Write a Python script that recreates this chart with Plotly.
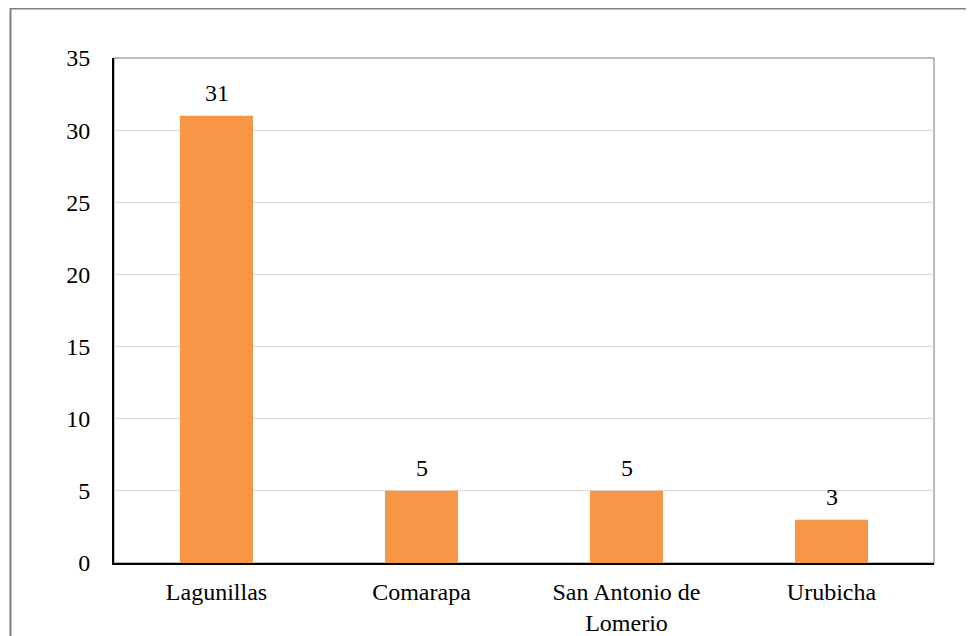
import plotly.graph_objects as go

categories = ["Lagunillas", "Comarapa", "San Antonio de<br>Lomerio", "Urubicha"]
values = [31, 5, 5, 3]
y_ticks = [0, 5, 10, 15, 20, 25, 30, 35]

FONT = "Liberation Serif"
FS = 24
# page body adds an 8px offset; plot area lands at screen 114..934 x 58..563
W, H = 974, 636
L, T = 106, 50
PW, PH = 820, 505
R, B = W - L - PW, H - T - PH

fig = go.Figure(go.Bar(
    x=categories, y=values, marker_color="#F79646", marker_line_width=0,
))

for c, v in zip(categories, values):
    fig.add_annotation(x=c, y=v, text=str(v), showarrow=False, yanchor="bottom",
                       yshift=8, font=dict(family=FONT, size=FS, color="#000000"))

def px2x(px):
    return (px - L) / PW

def px2y(py):
    return (T + PH - py) / PH

fig.update_layout(
    width=W, height=H, margin=dict(l=L, r=R, t=T, b=B, autoexpand=False),
    paper_bgcolor="white", plot_bgcolor="white", showlegend=False,
    bargap=0.644,
    font=dict(family=FONT, size=FS, color="#000000"),
    xaxis=dict(showline=True, linecolor="#000000", linewidth=2, ticks="",
               tickfont=dict(family=FONT, size=FS), ticklabelstandoff=6,
               automargin=False),
    yaxis=dict(range=[0, 35], tickvals=y_ticks, showgrid=True, gridcolor="#D9D9D9",
               gridwidth=1, showline=True, linecolor="#000000", linewidth=2,
               zeroline=False, ticks="", tickfont=dict(family=FONT, size=FS),
               ticklabelstandoff=17, automargin=False),
    shapes=[
        dict(type="rect", xref="paper", yref="paper", x0=0, x1=1, y0=0, y1=1,
             line=dict(color="#A6A6A6", width=1.5), layer="below"),
        dict(type="rect", xref="paper", yref="paper", x0=px2x(2.5), x1=px2x(990),
             y0=px2y(660), y1=px2y(0.5), line=dict(color="#808080", width=2),
             layer="below"),
    ],
)

fig.write_html("out.html")
